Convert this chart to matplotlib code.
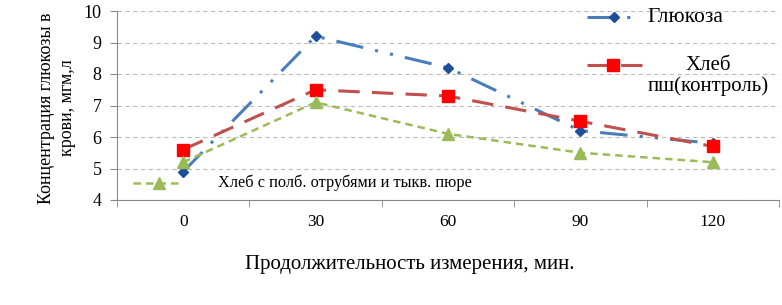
import numpy as np
import matplotlib.pyplot as plt
from matplotlib.lines import Line2D

plt.rcParams['font.family'] = ['Liberation Serif', 'DejaVu Serif']

# data
minutes = ['0', '30', '60', '90', '120']
glucose = [4.9, 9.2, 8.2, 6.2, 5.8]
bread_control = [5.6, 7.5, 7.3, 6.5, 5.7]
bread_bran = [5.2, 7.1, 6.1, 5.5, 5.2]
names = ['Глюкоза', 'Хлеб\nпш(контроль)', 'Хлеб с полб. отрубями и тыкв. пюре']

W, H = 782, 305
fig = plt.figure(figsize=(W / 100, H / 100), dpi=100)
ax = fig.add_axes([117 / W, 1 - 200 / H, (779 - 117) / W, (200 - 11) / H])

x = np.arange(len(minutes))

styles = [
    dict(color='#4A7EBB', lw=2.2, dashes=[9, 4, 1, 4, 1, 4], marker='D', ms=5,
         mfc='#1F4E9A', mec='#1F4E9A'),
    dict(color='#C0504D', lw=2.2, dashes=[7, 4], marker='s', ms=8,
         mfc='#FF0000', mec='#FF0000'),
    dict(color='#9BBB59', lw=1.8, dashes=[3, 2], marker='^', ms=8,
         mfc='#9BBB59', mec='#9BBB59'),
]
for vals, st in zip([glucose, bread_control, bread_bran], styles):
    ax.plot(x, vals, **st, zorder=3)

ax.set_xlim(-0.5, len(minutes) - 0.5)
ax.set_ylim(4, 10)
ax.set_yticks(range(4, 11))
ax.set_xticks(x)
ax.set_xticklabels(minutes)
ax.set_xticks(np.arange(-0.5, len(minutes)), minor=True)
ax.tick_params(axis='x', which='major', length=0, pad=10, labelsize=12.5)
ax.tick_params(axis='x', which='minor', length=5, color='#888888')
ax.tick_params(axis='y', length=5, color='#888888', labelsize=13, pad=6)
ax.yaxis.grid(True, color='#BBBBBB', linestyle=(0, (4, 3)), lw=0.8)
ax.set_axisbelow(True)
for s in ['top', 'right']:
    ax.spines[s].set_visible(False)
for s in ['left', 'bottom']:
    ax.spines[s].set_color('#888888')

# legend drawn by hand, positions in pixels of the picture
def px(xp, yp):
    return xp / W, 1 - yp / H

def sample(x0, x1, xm, yp, st):
    xs = [px(x0, yp)[0], px(x1, yp)[0]]
    ys = [px(x0, yp)[1]] * 2
    line = Line2D(xs, ys, color=st['color'], lw=st['lw'], dashes=st['dashes'],
                  transform=fig.transFigure)
    mk = Line2D([px(xm, yp)[0]], [px(xm, yp)[1]], marker=st['marker'], ms=st['ms'],
                mfc=st['mfc'], mec=st['mec'], ls='none', transform=fig.transFigure)
    fig.add_artist(line)
    fig.add_artist(mk)

sample(587, 640, 614, 17, styles[0])
fig.text(*px(647, 17), names[0], fontsize=15.5, va='center', ha='left')
sample(587, 642, 613, 65, styles[1])
fig.text(*px(708, 76), names[1], fontsize=15, va='center', ha='center',
         multialignment='center', linespacing=1.1)
sample(133, 183, 159, 183, styles[2])
fig.text(*px(218, 183), names[2], fontsize=11.8, va='center', ha='left')

fig.text(*px(410, 265), 'Продолжительность измерения, мин.', fontsize=15,
         ha='center', va='center')
fig.text(*px(57, 108), 'Концентрация глюкозы в\nкрови, мгм,л', fontsize=13,
         ha='center', va='center', rotation=90, linespacing=1.3)

plt.savefig('out.png', dpi=100)
